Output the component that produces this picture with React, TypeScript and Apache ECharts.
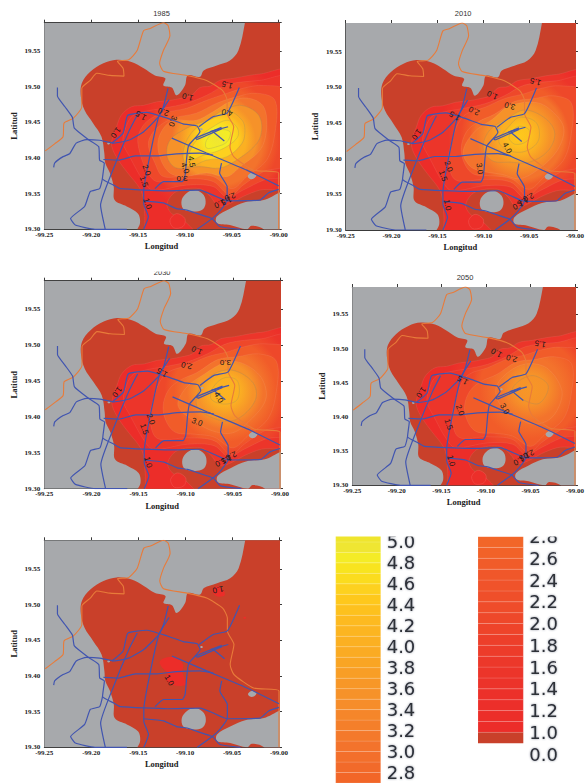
import React, { useEffect, useRef } from "react";
import * as echarts from "echarts";

type P = [number, number];
type L = [number, number, string, number];

const URBAN: P[] = [[-99.034,19.61],[-99.036,19.59],[-99.043,19.551],[-99.052,19.537],[-99.066,19.530],[-99.080,19.523],[-99.084,19.514],[-99.097,19.516],[-99.100,19.502],[-99.109,19.488],[-99.114,19.499],[-99.123,19.502],[-99.121,19.512],[-99.132,19.516],[-99.144,19.526],[-99.157,19.535],[-99.173,19.538],[-99.187,19.533],[-99.201,19.521],[-99.210,19.505],[-99.211,19.486],[-99.207,19.467],[-99.198,19.449],[-99.189,19.430],[-99.186,19.407],[-99.185,19.393],[-99.180,19.379],[-99.176,19.360],[-99.175,19.341],[-99.162,19.332],[-99.150,19.322],[-99.148,19.308],[-99.153,19.29],[-98.98,19.29],[-98.98,19.61]];
const LAKE: P[] = [[-99.1035,19.341],[-99.098,19.351],[-99.089,19.355],[-99.080,19.348],[-99.078,19.336],[-99.082,19.327],[-99.093,19.325],[-99.102,19.329]];
const SE_GAP: P[] = [[-98.99,19.353],[-99.016,19.341],[-99.036,19.338],[-99.052,19.329],[-99.066,19.318],[-99.066,19.309],[-99.052,19.306],[-99.034,19.30],[-99.029,19.305],[-99.016,19.30],[-99.016,19.29],[-98.99,19.29]];
const POND: P[] = [[-99.033,19.375],[-99.029,19.379],[-99.024,19.376],[-99.027,19.371],[-99.031,19.371]];
const DOT_W: P[] = [[-99.183,19.421],[-99.181,19.422],[-99.180,19.420],[-99.182,19.419]];
const DOT_E: P[] = [[-99.084,19.441],[-99.082,19.442],[-99.081,19.440],[-99.083,19.439]];

const L10: P[] = [[-98.99,19.521],[-99.020,19.518],[-99.032,19.516],[-99.048,19.512],[-99.063,19.509],[-99.073,19.501],[-99.084,19.499],[-99.093,19.488],[-99.104,19.484],[-99.116,19.481],[-99.130,19.479],[-99.144,19.474],[-99.157,19.472],[-99.168,19.460],[-99.173,19.444],[-99.177,19.430],[-99.178,19.416],[-99.171,19.397],[-99.161,19.379],[-99.148,19.357],[-99.144,19.341],[-99.143,19.322],[-99.139,19.29],[-99.088,19.29],[-99.100,19.311],[-99.114,19.322],[-99.119,19.336],[-99.109,19.353],[-99.084,19.357],[-99.073,19.346],[-99.064,19.332],[-99.052,19.336],[-99.038,19.346],[-99.020,19.355],[-98.99,19.362]];
const L15: P[] = [[-98.99,19.512],[-99.020,19.509],[-99.055,19.503],[-99.077,19.488],[-99.098,19.477],[-99.123,19.470],[-99.144,19.465],[-99.157,19.458],[-99.164,19.439],[-99.166,19.421],[-99.159,19.402],[-99.144,19.367],[-99.134,19.355],[-99.098,19.362],[-99.070,19.360],[-99.055,19.345],[-99.038,19.355],[-99.016,19.369],[-98.99,19.379]];
const L20: P[] = [[-98.99,19.493],[-99.016,19.502],[-99.038,19.498],[-99.055,19.491],[-99.077,19.481],[-99.098,19.470],[-99.123,19.463],[-99.141,19.451],[-99.150,19.430],[-99.148,19.407],[-99.141,19.383],[-99.130,19.367],[-99.098,19.371],[-99.070,19.367],[-99.052,19.348],[-99.038,19.362],[-99.016,19.381],[-98.99,19.393]];
const L20_LATE: P[] = [[-98.99,19.493],[-99.016,19.502],[-99.038,19.498],[-99.055,19.491],[-99.077,19.484],[-99.098,19.472],[-99.118,19.463],[-99.128,19.448],[-99.135,19.42],[-99.138,19.397],[-99.130,19.370],[-99.098,19.371],[-99.070,19.367],[-99.052,19.348],[-99.038,19.362],[-99.016,19.381],[-98.99,19.393]];
const L25: P[] = [[-99.004,19.481],[-99.023,19.491],[-99.045,19.486],[-99.066,19.477],[-99.088,19.463],[-99.112,19.456],[-99.130,19.442],[-99.139,19.421],[-99.132,19.393],[-99.123,19.374],[-99.098,19.376],[-99.070,19.374],[-99.050,19.357],[-99.034,19.374],[-99.013,19.397],[-99.004,19.435]];
const L25_LATE: P[] = [[-99.004,19.478],[-99.023,19.488],[-99.045,19.484],[-99.066,19.480],[-99.088,19.462],[-99.105,19.452],[-99.118,19.438],[-99.124,19.415],[-99.120,19.392],[-99.110,19.378],[-99.090,19.376],[-99.070,19.372],[-99.050,19.357],[-99.034,19.374],[-99.013,19.397],[-99.004,19.435]];

const Y1985_30: P[] = [[-99.016,19.472],[-99.032,19.484],[-99.052,19.479],[-99.070,19.465],[-99.088,19.453],[-99.114,19.452],[-99.127,19.432],[-99.128,19.407],[-99.118,19.381],[-99.103,19.374],[-99.077,19.379],[-99.055,19.374],[-99.041,19.388],[-99.020,19.411],[-99.013,19.439]];
const Y1985_35: P[] = [[-99.023,19.463],[-99.041,19.474],[-99.059,19.467],[-99.077,19.453],[-99.098,19.442],[-99.116,19.425],[-99.119,19.402],[-99.109,19.386],[-99.084,19.388],[-99.063,19.386],[-99.045,19.397],[-99.023,19.421],[-99.018,19.444]];
const Y1985_40: P[] = [[-99.039,19.453],[-99.052,19.465],[-99.070,19.456],[-99.088,19.442],[-99.098,19.425],[-99.102,19.402],[-99.096,19.388],[-99.077,19.397],[-99.055,19.402],[-99.039,19.421],[-99.036,19.439]];
const Y1985_45: P[] = [[-99.045,19.444],[-99.055,19.453],[-99.070,19.444],[-99.084,19.430],[-99.093,19.414],[-99.096,19.397],[-99.080,19.404],[-99.063,19.411],[-99.050,19.421],[-99.043,19.432]];
const Y1985_48: P[] = [[-99.052,19.437],[-99.066,19.439],[-99.077,19.425],[-99.077,19.414],[-99.066,19.416],[-99.055,19.423]];

const Y2010_30: P[] = [[-99.02,19.46],[-99.04,19.478],[-99.071,19.474],[-99.09,19.455],[-99.11,19.437],[-99.122,19.41],[-99.115,19.39],[-99.104,19.383],[-99.08,19.378],[-99.06,19.372],[-99.04,19.385],[-99.02,19.41],[-99.012,19.44]];
const Y2010_35: P[] = [[-99.032,19.456],[-99.055,19.468],[-99.075,19.455],[-99.093,19.44],[-99.10,19.415],[-99.09,19.397],[-99.07,19.395],[-99.05,19.395],[-99.03,19.41],[-99.022,19.435]];
const Y2010_40: P[] = [[-99.042,19.45],[-99.06,19.458],[-99.072,19.445],[-99.083,19.425],[-99.074,19.412],[-99.055,19.41],[-99.04,19.425]];
const Y2010_43: P[] = [[-99.05,19.44],[-99.062,19.445],[-99.072,19.43],[-99.065,19.42],[-99.052,19.425]];

const Y2030_30: P[] = [[-99.02,19.455],[-99.04,19.475],[-99.058,19.476],[-99.08,19.46],[-99.10,19.44],[-99.108,19.415],[-99.088,19.392],[-99.07,19.38],[-99.05,19.378],[-99.032,19.395],[-99.015,19.425]];
const Y2030_35: P[] = [[-99.03,19.45],[-99.05,19.465],[-99.07,19.46],[-99.085,19.44],[-99.088,19.415],[-99.07,19.398],[-99.05,19.395],[-99.033,19.41],[-99.025,19.43]];
const Y2030_40: P[] = [[-99.045,19.45],[-99.058,19.455],[-99.07,19.443],[-99.073,19.425],[-99.058,19.418],[-99.045,19.425]];

const Y2050_30: P[] = [[-99.015,19.44],[-99.03,19.47],[-99.05,19.478],[-99.07,19.47],[-99.088,19.445],[-99.085,19.42],[-99.07,19.405],[-99.05,19.39],[-99.03,19.395],[-99.018,19.415]];
const Y2050_35: P[] = [[-99.03,19.445],[-99.045,19.46],[-99.06,19.455],[-99.07,19.44],[-99.058,19.425],[-99.04,19.42]];

const SOUTH_RING: P[] = [[-99.116,19.313],[-99.109,19.322],[-99.100,19.315],[-99.102,19.304],[-99.112,19.302]];
const PATCH_CENTRE: P[] = [[-99.127,19.420],[-99.119,19.426],[-99.109,19.425],[-99.102,19.415],[-99.103,19.406],[-99.100,19.394],[-99.100,19.387],[-99.112,19.387],[-99.120,19.394],[-99.119,19.404],[-99.124,19.411]];
const PATCH_NORTH: P[] = [[-99.071,19.52],[-99.066,19.526],[-99.059,19.520],[-99.058,19.513],[-99.064,19.511],[-99.069,19.514]];
const PATCH_SMALL: P[] = [[-99.038,19.482],[-99.036,19.483],[-99.035,19.481],[-99.037,19.480]];

const ROADS: P[][] = [
  [[-99.236,19.499],[-99.236,19.487],[-99.228,19.472],[-99.220,19.457],[-99.218,19.442],[-99.203,19.426],[-99.192,19.416],[-99.191,19.397],[-99.186,19.393],[-99.188,19.371],[-99.176,19.362],[-99.169,19.357],[-99.119,19.354],[-99.084,19.355],[-99.070,19.348],[-99.055,19.340],[-99.020,19.341],[-99.011,19.351],[-99.000,19.356]],
  [[-99.240,19.387],[-99.239,19.393],[-99.230,19.402],[-99.223,19.406],[-99.216,19.421],[-99.205,19.426],[-99.191,19.425],[-99.176,19.421],[-99.160,19.425],[-99.144,19.437],[-99.128,19.458],[-99.123,19.472],[-99.118,19.498]],
  [[-99.185,19.30],[-99.190,19.334],[-99.176,19.386],[-99.160,19.437],[-99.151,19.460]],
  [[-99.178,19.421],[-99.166,19.435],[-99.161,19.460],[-99.141,19.464],[-99.119,19.456],[-99.102,19.448],[-99.087,19.445],[-99.084,19.437],[-99.096,19.418],[-99.098,19.402],[-99.100,19.374],[-99.103,19.367],[-99.123,19.367],[-99.132,19.357]],
  [[-99.117,19.482],[-99.128,19.458],[-99.139,19.393],[-99.144,19.353],[-99.144,19.336],[-99.139,19.318],[-99.144,19.30]],
  [[-99.114,19.428],[-99.077,19.407],[-99.034,19.383],[-99.000,19.361]],
  [[-99.187,19.398],[-99.171,19.397],[-99.153,19.403],[-99.130,19.403],[-99.109,19.406],[-99.084,19.407],[-99.070,19.404]],
  [[-99.085,19.444],[-99.070,19.458],[-99.055,19.463],[-99.042,19.499]],
  [[-99.089,19.428],[-99.061,19.443]],
  [[-99.087,19.426],[-99.061,19.441]],
  [[-99.089,19.428],[-99.087,19.426]],
  [[-99.073,19.437],[-99.054,19.444]],
  [[-99.070,19.437],[-99.058,19.424]],
  [[-99.162,19.30],[-99.196,19.30],[-99.217,19.306],[-99.222,19.315],[-99.207,19.332],[-99.201,19.353],[-99.191,19.357],[-99.188,19.371]],
  [[-99.061,19.393],[-99.063,19.379],[-99.055,19.360],[-99.055,19.341],[-99.063,19.325],[-99.071,19.315],[-99.087,19.30]],
  [[-99.144,19.340],[-99.123,19.337],[-99.109,19.329],[-99.098,19.327],[-99.087,19.322],[-99.071,19.315],[-99.063,19.304],[-99.041,19.30]],
];
const BOUNDARY: P[] = [[-99.249,19.410],[-99.239,19.420],[-99.230,19.430],[-99.229,19.449],[-99.219,19.456],[-99.210,19.472],[-99.210,19.498],[-99.201,19.509],[-99.194,19.519],[-99.180,19.516],[-99.165,19.515],[-99.166,19.526],[-99.172,19.536],[-99.160,19.538],[-99.151,19.551],[-99.144,19.579],[-99.137,19.582],[-99.123,19.590],[-99.118,19.586],[-99.116,19.572],[-99.123,19.551],[-99.127,19.533],[-99.123,19.522],[-99.098,19.516],[-99.077,19.509],[-99.060,19.495],[-99.055,19.481],[-99.055,19.463],[-99.048,19.444],[-99.052,19.416],[-99.048,19.402],[-99.027,19.383],[-99.000,19.379],[-99.000,19.300]];

const LABELS_1985: L[] = [[-99.055,19.503,"1.5",165],[-99.097,19.486,"1.0",165],[-99.123,19.465,"2.0",160],[-99.147,19.460,"1.5",150],[-99.113,19.452,"3.0",250],[-99.174,19.436,"1.0",235],[-99.055,19.464,"4.0",170],[-99.093,19.395,"4.5",280],[-99.100,19.386,"4.0",290],[-99.103,19.371,"3.0",180],[-99.141,19.383,"2.0",290],[-99.144,19.367,"1.5",290],[-99.140,19.336,"1.0",290],[-99.052,19.346,"2.0",200],[-99.056,19.340,"1.5",205],[-99.063,19.336,"1.0",205]];
const LABELS_2010: L[] = [[-99.043,19.508,"1.5",165],[-99.09,19.489,"1.0",155],[-99.11,19.467,"2.0",155],[-99.071,19.474,"3.0",165],[-99.131,19.46,"1.5",150],[-99.173,19.434,"1.0",235],[-99.138,19.389,"2.0",290],[-99.144,19.376,"1.5",290],[-99.104,19.386,"3.0",280],[-99.074,19.415,"4.0",300],[-99.051,19.346,"2.0",205],[-99.057,19.34,"1.5",205],[-99.062,19.335,"1.0",205],[-99.139,19.335,"1.0",280]];
const LABELS_2030: L[] = [[-99.088,19.493,"1.0",155],[-99.099,19.472,"2.0",165],[-99.058,19.476,"3.0",180],[-99.125,19.462,"1.5",150],[-99.173,19.435,"1.0",235],[-99.065,19.427,"4.0",300],[-99.137,19.397,"2.0",290],[-99.144,19.383,"1.5",290],[-99.088,19.393,"3.0",340],[-99.14,19.337,"1.0",285],[-99.052,19.346,"2.0",205],[-99.057,19.341,"1.5",205],[-99.063,19.337,"1.0",205]];
const LABELS_2050: L[] = [[-99.039,19.507,"1.5",170],[-99.088,19.494,"1.0",150],[-99.071,19.486,"2.0",165],[-99.126,19.454,"1.5",150],[-99.173,19.436,"1.0",235],[-99.079,19.412,"3.0",300],[-99.129,19.41,"2.0",290],[-99.142,19.389,"1.5",290],[-99.139,19.336,"1.0",285],[-99.052,19.346,"2.0",205],[-99.057,19.342,"1.5",205],[-99.063,19.336,"1.0",205]];
const LABELS_2080: L[] = [[-99.065,19.521,"1.0",190],[-99.117,19.394,"1.0",300]];

const LEVELS_1985: [number, P[]][] = [[1.0,L10],[1.5,L15],[2.0,L20],[2.5,L25],[3.0,Y1985_30],[3.5,Y1985_35],[4.0,Y1985_40],[4.5,Y1985_45],[4.8,Y1985_48]];
const LEVELS_2010: [number, P[]][] = [[1.0,L10],[1.5,L15],[2.0,L20_LATE],[2.5,L25_LATE],[3.0,Y2010_30],[3.5,Y2010_35],[4.0,Y2010_40],[4.3,Y2010_43]];
const LEVELS_2030: [number, P[]][] = [[1.0,L10],[1.5,L15],[2.0,L20_LATE],[2.5,L25_LATE],[3.0,Y2030_30],[3.5,Y2030_35],[4.0,Y2030_40]];
const LEVELS_2050: [number, P[]][] = [[1.0,L10],[1.5,L15],[2.0,L20_LATE],[2.5,L25_LATE],[3.0,Y2050_30],[3.5,Y2050_35]];
const LEVELS_2080: [number, P[]][] = [];

const COLOR_LEVELS = ["#ec2d29","#ec2e29","#ec2f2a","#ec312a","#ec332a","#ec352a","#ec382a","#ed3c2a","#ed3f2a","#ee442a","#ee482a","#ef4c2a","#ef4f2a","#f0532a","#f0572a","#f15c29","#f26228","#f26628","#f26a2a","#f36f2b","#f3732c","#f4792b","#f47f2a","#f5862a","#f68d2a","#f69229","#f79727","#f89e26","#f9a524","#faab23","#fbb022","#fcb521","#fdba20","#fdc11e","#fec81c","#fdd11f","#fbdc1e","#f8e41f","#f4ec26","#efe632","#efe52d"];
const BASE_DARK = "#c9402a";
const GRAY = "#a7a9ac";
const BLUE = "#4155b0";
const ORANGE = "#e87b3a";

const colorAt = (v: number) => COLOR_LEVELS[Math.max(0, Math.min(40, Math.round((v - 1) * 10)))];

const LEFT_TICKS = ["2.7","2.8","2.9","3.0","3.1","3.2","3.3","3.4","3.5","3.6","3.7","3.8","3.9","4.0","4.1","4.2","4.3","4.4","4.5","4.6","4.7","4.8","4.9","5.0","5.1"];
const RIGHT_TICKS = ["0.0","0.5","1.0","1.1","1.2","1.3","1.4","1.5","1.6","1.7","1.8","1.9","2.0","2.1","2.2","2.3","2.4","2.5","2.6","2.7","2.8"];

const PANELS = [
  { title: "1985", levels: LEVELS_1985, labels: LABELS_1985, ring: true, box: [44.3, 22.7, 234.4, 206.6], titleY: 13 },
  { title: "2010", levels: LEVELS_2010, labels: LABELS_2010, ring: true, box: [345.7, 23, 235, 207], titleY: 13 },
  { title: "2030", levels: LEVELS_2030, labels: LABELS_2030, ring: true, box: [44.3, 280.7, 235.7, 208], titleY: 272 },
  { title: "2050", levels: LEVELS_2050, labels: LABELS_2050, ring: true, box: [352.3, 287, 225.4, 198.3], titleY: 277 },
  { title: "", levels: LEVELS_2080, labels: LABELS_2080, ring: false, box: [44.3, 540.3, 234.7, 207], titleY: 0 },
];

function buildOption() {
  const grid: any[] = [];
  const xAxis: any[] = [];
  const yAxis: any[] = [];
  const series: any[] = [];
  const title: any[] = [];
  const font = "Liberation Serif";

  PANELS.forEach((p, i) => {
    const [left, top, width, height] = p.box;
    grid.push({ left, top, width, height });
    const line = { show: true, onZero: false, lineStyle: { color: "#3a3a3a", width: 1 } };
    xAxis.push({
      type: "value", gridIndex: i, position: "bottom", min: -99.25, max: -99.0, interval: 0.05, splitLine: { show: false },
      axisLine: line, axisTick: { show: false },
      axisLabel: { margin: 2, fontFamily: font, fontWeight: "bold", fontSize: 7, color: "#222", formatter: (v: number) => v.toFixed(2) },
      name: "Longitud", nameLocation: "middle", nameGap: 12.5,
      nameTextStyle: { fontFamily: font, fontWeight: "bold", fontSize: 8.5, color: "#222" },
    });
    xAxis.push({
      type: "value", gridIndex: i, position: "top", min: -99.25, max: -99.0, interval: 0.05, splitLine: { show: false },
      axisLine: line, axisTick: { show: true, length: 3, lineStyle: { color: "#3a3a3a" } }, axisLabel: { show: false },
    });
    yAxis.push({
      type: "value", gridIndex: i, position: "left", min: 19.3, max: 19.59, interval: 0.05, splitLine: { show: false },
      axisLine: line, axisTick: { show: false },
      axisLabel: { margin: 4, showMaxLabel: false, fontFamily: font, fontWeight: "bold", fontSize: 7, color: "#222", formatter: (v: number) => v.toFixed(2) },
      name: "Latitud", nameLocation: "middle", nameGap: 26,
      nameTextStyle: { fontFamily: font, fontWeight: "bold", fontSize: 8.5, color: "#222" },
    });
    yAxis.push({
      type: "value", gridIndex: i, position: "right", min: 19.3, max: 19.59, interval: 0.05, splitLine: { show: false },
      axisLine: line, axisTick: { show: true, length: 3, lineStyle: { color: "#3a3a3a" } }, axisLabel: { show: false },
    });
    if (p.title) {
      title.push({
        text: p.title, left: left + width / 2, top: p.titleY, padding: 0, textAlign: "center", textVerticalAlign: "middle",
        textStyle: { fontFamily: "Liberation Sans", fontWeight: "normal", fontSize: 7.5, color: "#333" },
      });
    }
    const ax = { xAxisIndex: 2 * i, yAxisIndex: 2 * i };

    series.push({
      type: "custom", ...ax, clip: true, silent: true, z: 1, data: [[-99.1, 19.4]],
      renderItem: (_params: any, api: any) => {
        const px = (pts: P[]) => pts.map((q) => api.coord(q));
        const poly = (pts: P[], fill: any, stroke?: string, sm = 0.35) => ({
          type: "polygon", shape: { points: px(pts), smooth: sm }, style: { fill, stroke: stroke || "none", lineWidth: stroke ? 0.5 : 0 },
        });
        const children: any[] = [];
        const cs = _params.coordSys;
        children.push({ type: "rect", shape: { x: cs.x, y: cs.y, width: cs.width, height: cs.height }, style: { fill: GRAY } });
        children.push(poly(URBAN, BASE_DARK));
        const lv = p.levels;
        if (lv.length) {
          const peak = px(lv[lv.length - 1][1]);
          const cx = peak.reduce((s: number, q: number[]) => s + q[0], 0) / peak.length;
          const cy = peak.reduce((s: number, q: number[]) => s + q[1], 0) / peak.length;
          const radius = (pts: P[]) => {
            const qs = px(pts);
            return qs.reduce((s: number, q: number[]) => s + Math.hypot(q[0] - cx, q[1] - cy), 0) / qs.length;
          };
          lv.forEach(([level, pts], k) => {
            const next = k + 1 < lv.length ? lv[k + 1] : null;
            const R = radius(pts);
            const ratio = next ? Math.min(0.98, radius(next[1]) / R) : 0;
            const fill = new echarts.graphic.RadialGradient(cx, cy, R, [
              { offset: 0, color: colorAt(next ? next[0] : level + 0.2) },
              { offset: ratio, color: colorAt(next ? next[0] : level + 0.1) },
              { offset: 1, color: colorAt(level) },
            ], true);
            const stroke = level >= 3.5 ? "rgba(130,130,110,0.5)" : "rgba(255,255,255,0.14)";
            children.push(poly(pts, fill, stroke));
          });
          if (p.ring) children.push(poly(SOUTH_RING, colorAt(1.2), "rgba(255,170,160,0.35)"));
        } else {
          [PATCH_CENTRE, PATCH_NORTH, PATCH_SMALL].forEach((pts) => children.push(poly(pts, colorAt(1.0))));
        }
        [LAKE, SE_GAP, POND, DOT_W, DOT_E].forEach((pts) => children.push(poly(pts, GRAY)));
        return { type: "group", children };
      },
    });

    series.push({
      type: "line", ...ax, data: BOUNDARY, showSymbol: false, smooth: 0.2, silent: true, z: 3,
      lineStyle: { color: ORANGE, width: 1.1 },
    });
    ROADS.forEach((road) => {
      series.push({
        type: "line", ...ax, data: road, showSymbol: false, smooth: 0.15, silent: true, z: 4,
        lineStyle: { color: BLUE, width: 1.2 },
      });
    });
    series.push({
      type: "custom", ...ax, silent: true, z: 5, data: p.labels.map((l) => [l[0], l[1]]),
      renderItem: (params: any, api: any) => {
        const l = p.labels[params.dataIndex];
        const [x, y] = api.coord([l[0], l[1]]);
        return {
          type: "text", x, y, rotation: (l[3] * Math.PI) / 180,
          style: { text: l[2], fill: "#1a1a1a", font: "8px 'Liberation Sans'", align: "center", verticalAlign: "middle" },
        };
      },
    });
  });

  const bar = (ticks: string[], box: number[], gridIdx: number, axisIdx: number) => {
    grid.push({ left: box[0], top: box[1], width: box[2], height: box[3] });
    xAxis.push({ type: "value", gridIndex: gridIdx, min: 0, max: 1, show: false });
    yAxis.push({
      type: "category", gridIndex: gridIdx, data: ticks, boundaryGap: false, position: "right",
      axisLine: { show: false }, axisTick: { show: false }, splitLine: { show: false },
      axisLabel: {
        interval: 0, margin: 6, fontFamily: "DejaVu Sans", fontSize: 18, color: "#2d3038",
        textShadowColor: "rgba(70,80,100,0.6)", textShadowBlur: 2,
        formatter: (v: string) => (Math.round(parseFloat(v) * 10) % 2 === 0 && v !== "0.5" ? v : ""),
      },
    });
    series.push({
      type: "custom", xAxisIndex: axisIdx, yAxisIndex: axisIdx, silent: true, z: 2,
      data: ticks.slice(0, -1).map((t, k) => [0, k]),
      renderItem: (params: any, api: any) => {
        const k = params.dataIndex;
        const y0 = api.coord([0, k])[1];
        const y1 = api.coord([0, k + 1])[1];
        const cs = params.coordSys;
        const v = parseFloat(ticks[k]);
        if (v < 0.1) return { type: "group", children: [] };
        const fill = v < 1 ? BASE_DARK : colorAt(v);
        return {
          type: "rect", shape: { x: cs.x, y: y1, width: cs.width, height: y0 - y1 },
          style: { fill, stroke: v < 1 ? "none" : "rgba(255,255,255,0.22)", lineWidth: 0.6 },
        };
      },
    });
  };
  bar(LEFT_TICKS, [335.7, 531.4, 45, 261.2], 5, 10);
  bar(RIGHT_TICKS, [478, 536.5, 45.3, 217.6], 6, 11);

  return {
    animation: false,
    backgroundColor: "#fff",
    title, grid, xAxis, yAxis, series,
    graphic: [
      { type: "rect", z: 100, shape: { x: 0, y: 262, width: 300, height: 9.5 }, style: { fill: "#fff" } },
      { type: "rect", z: 100, shape: { x: 325, y: 520, width: 262, height: 16.6 }, style: { fill: "#fff" } },
    ],
  };
}

export default function App() {
  const ref = useRef<HTMLDivElement>(null);
  useEffect(() => {
    document.body.style.margin = "0";
    const chart = echarts.init(ref.current!, undefined, { renderer: "svg" });
    chart.setOption(buildOption() as any);
    return () => chart.dispose();
  }, []);
  return <div ref={ref} style={{ width: 587, height: 783 }} />;
}
